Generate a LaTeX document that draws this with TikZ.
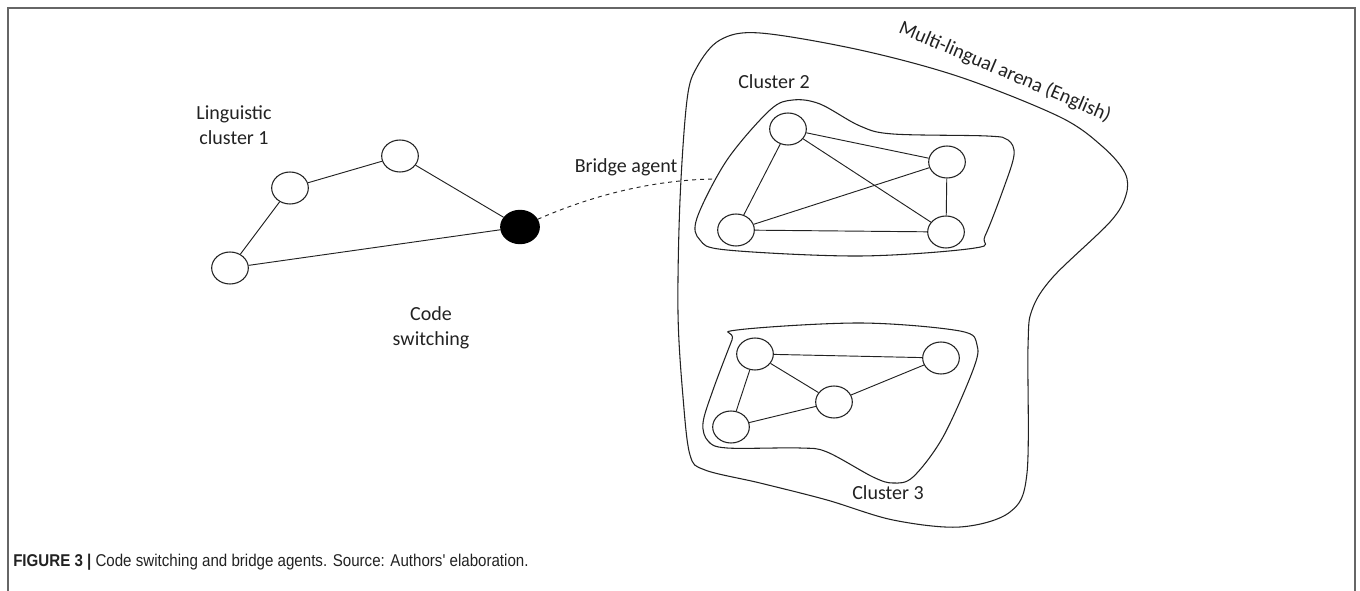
\documentclass[tikz,border=0pt]{standalone}
\usepackage{fontspec}
\setmainfont{Carlito}
\newfontfamily\capfont[FakeStretch=0.885]{Liberation Sans}
\usepackage{tikz}
\usetikzlibrary{shapes.geometric}
\definecolor{ink}{HTML}{222222}
\definecolor{frame}{HTML}{666666}

\begin{document}
\begin{tikzpicture}[x=0.75pt, y=-0.75pt,
  agent/.style={ellipse, draw=ink, line width=0.8pt, minimum width=27.5pt, minimum height=24pt, inner sep=0pt},
  bridge/.style={agent, fill=black, draw=black, minimum width=29pt, minimum height=25pt},
  tie/.style={draw=ink, line width=0.7pt},
  hull/.style={draw=ink, line width=0.8pt},
  lbl/.style={font=\fontsize{15}{18.5}\selectfont, text=ink, align=center, inner sep=0pt}
]
\useasboundingbox (0,0) rectangle (1360,591);
\draw[frame, line width=1.4pt] (8,591) -- (8,8) -- (1355,8) -- (1355,591);

% cluster 1 and the bridge agent
\node[agent] (c1a) at (400,156) {};
\node[agent] (c1b) at (290,188) {};
\node[agent] (c1c) at (230,268) {};
\node[bridge] (ba) at (520,227) {};
\draw[tie] (c1a) -- (c1b);
\draw[tie] (c1b) -- (c1c);
\draw[tie] (c1c) -- (ba);
\draw[tie] (c1a) -- (ba);
\node[lbl] (l1) at (234,125) {Linguistic\\cluster 1};
\node[lbl] (cs) at (431,328) {Code\\switching};
\node[lbl] (bl) at (626,167) {Bridge agent};

% multi-lingual arena
\draw[hull] plot[smooth cycle, tension=0.55] coordinates {
  (760,33) (860,50) (960,77) (1060,117) (1103,147) (1125,173) (1126,195)
  (1110,222) (1053,277) (1032,310) (1028,347) (1027,473) (1010,512)
  (960,527) (893,520) (827,500) (760,483) (705,470) (690,455) (683,397)
  (678,313) (680,200) (687,100) (697,67) (720,40)};
\node[lbl, rotate=-23] (arena) at (1005,72) {Multi-lingual arena (English)};

% cluster 2
\draw[hull] plot[smooth cycle, tension=0.55] coordinates {
  (793,100) (820,104) (860,126) (893,134) (987,136) (1008,140) (1014,155)
  (1003,190) (985,236) (975,248) (860,256) (727,250) (700,240) (697,218)
  (727,160) (770,110)};
\node[agent] (c2a) at (788,129) {};
\node[agent] (c2b) at (947,162) {};
\node[agent] (c2c) at (736,230) {};
\node[agent] (c2d) at (946,232) {};
\draw[tie] (c2a) -- (c2c);
\draw[tie] (c2a) -- (c2b);
\draw[tie] (c2a) -- (c2d);
\draw[tie] (c2c) -- (c2b);
\draw[tie] (c2c) -- (c2d);
\draw[tie] (c2b) -- (c2d);
\node[lbl] (l2) at (774,82) {Cluster 2};

% bridge agent reaching into cluster 2
\coordinate (reach) at (713,179);
\draw[ink, line width=0.7pt, dashed] (ba) .. controls (600,192) and (660,180) .. (reach);

% cluster 3
\draw[hull] plot[smooth cycle, tension=0.55] coordinates {
  (737,330) (860,323) (960,331) (977,345) (973,370) (943,437) (913,477)
  (893,483) (873,477) (827,452) (800,448) (727,448) (708,441) (703,423)
  (713,390) (732,340)};
\node[agent] (c3a) at (755,354) {};
\node[agent] (c3b) at (941,358) {};
\node[agent] (c3c) at (834,402) {};
\node[agent] (c3d) at (731,427) {};
\draw[tie] (c3a) -- (c3b);
\draw[tie] (c3a) -- (c3c);
\draw[tie] (c3a) -- (c3d);
\draw[tie] (c3c) -- (c3b);
\draw[tie] (c3d) -- (c3c);
\node[lbl] (l3) at (888,493) {Cluster 3};

\node[anchor=base west, inner sep=0pt, text=ink, font=\capfont\fontsize{12.8}{15}\selectfont] (cap) at (13,566)
  {\textbf{FIGURE 3 |} Code switching and bridge agents. Source: Authors' elaboration.};
\end{tikzpicture}
\end{document}
